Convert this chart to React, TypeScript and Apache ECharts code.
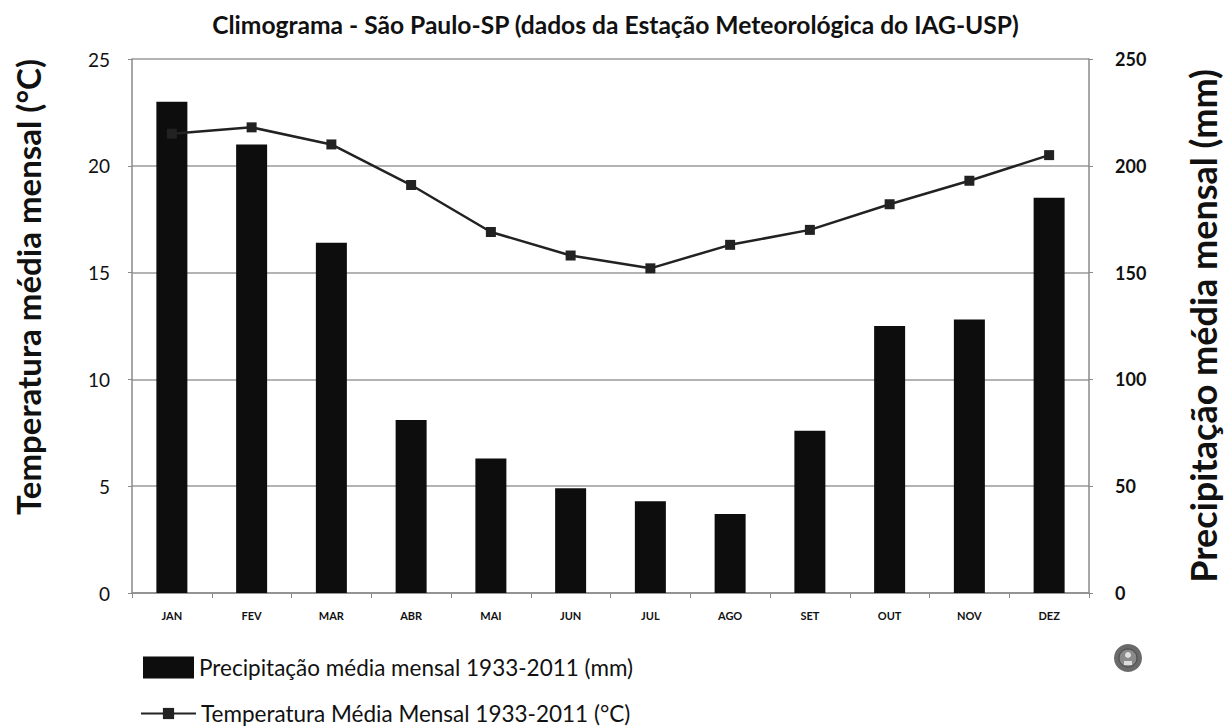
import React, { useEffect, useRef } from "react";
import * as echarts from "echarts";

const months = ["JAN", "FEV", "MAR", "ABR", "MAI", "JUN", "JUL", "AGO", "SET", "OUT", "NOV", "DEZ"];
const precipitation = [230, 210, 164, 81, 63, 49, 43, 37, 76, 125, 128, 185];
const temperature = [21.5, 21.8, 21.0, 19.1, 16.9, 15.8, 15.2, 16.3, 17.0, 18.2, 19.3, 20.5];
const tempTicks = [0, 25, 5];
const precTicks = [0, 250, 50];

const precName = "Precipitação média mensal 1933-2011 (mm)";
const tempName = "Temperatura Média Mensal 1933-2011 (°C)";
const FONT = "Lato, 'Open Sans', sans-serif";

export default function App() {
  const ref = useRef<HTMLDivElement>(null);
  useEffect(() => {
    if (!ref.current) return;
    const chart = echarts.init(ref.current, null, { renderer: "svg" });
    chart.setOption({
      animation: false,
      backgroundColor: "#ffffff",
      textStyle: { fontFamily: FONT },
      title: {
        text: "Climograma - São Paulo-SP (dados da Estação Meteorológica do IAG-USP)",
        left: "center",
        top: 7,
        textStyle: { fontSize: 24.6, fontWeight: "bold", color: "#111", fontFamily: FONT },
      },
      grid: { left: 132, right: 142, top: 59, bottom: 134 },
      legend: [
        {
          data: [precName],
          left: 138,
          top: 651,
          orient: "vertical",
          itemWidth: 51,
          itemHeight: 22,
          icon: "rect",
          textStyle: { fontSize: 22.5, color: "#111", fontFamily: FONT },
        },
        {
          data: [tempName],
          left: 135,
          top: 697,
          orient: "vertical",
          itemWidth: 55,
          itemHeight: 14,
          textStyle: { fontSize: 22.5, color: "#111", fontFamily: FONT },
        },
      ],
      xAxis: {
        type: "category",
        data: months,
        boundaryGap: true,
        axisLine: { lineStyle: { color: "#8a8a8a", width: 1.5 } },
        axisTick: { show: true, length: 5, lineStyle: { color: "#8a8a8a" } },
        axisLabel: { fontSize: 11, fontWeight: "bold", color: "#111", margin: 17 },
      },
      yAxis: [
        {
          type: "value",
          min: tempTicks[0],
          max: tempTicks[1],
          interval: tempTicks[2],
          name: "Temperatura média mensal (°C)",
          nameLocation: "middle",
          nameGap: 88,
          nameTextStyle: { fontSize: 33, fontWeight: "bold", color: "#111", padding: [0, 0, 0, 78] },
          axisLine: { show: true, lineStyle: { color: "#8a8a8a", width: 1.5 } },
          axisTick: { show: true, length: 4, lineStyle: { color: "#8a8a8a" } },
          axisLabel: { fontSize: 19, color: "#111", margin: 22 },
          splitLine: { show: true, lineStyle: { color: "#9a9a9a", width: 1.5 } },
        },
        {
          type: "value",
          min: precTicks[0],
          max: precTicks[1],
          interval: precTicks[2],
          position: "right",
          name: "Precipitação média mensal (mm)",
          nameLocation: "middle",
          nameGap: 96,
          nameRotate: 90,
          nameTextStyle: { fontSize: 36, fontWeight: "bold", color: "#111" },
          axisLine: { show: true, lineStyle: { color: "#8a8a8a", width: 1.5 } },
          axisTick: { show: true, length: 4, lineStyle: { color: "#8a8a8a" } },
          axisLabel: { fontSize: 18, fontWeight: "bold", color: "#111", margin: 26 },
          splitLine: { show: false },
        },
      ],
      series: [
        {
          name: precName,
          type: "bar",
          yAxisIndex: 1,
          data: precipitation,
          barWidth: 31,
          itemStyle: { color: "#0d0d0d" },
        },
        {
          name: tempName,
          type: "line",
          yAxisIndex: 0,
          data: temperature,
          symbol: "rect",
          symbolSize: 10,
          lineStyle: { color: "#222", width: 2.5 },
          itemStyle: { color: "#222" },
          z: 5,
        },
      ],
      graphic: [
        {
          type: "group",
          left: 1114,
          top: 644,
          children: [
            { type: "circle", shape: { cx: 14, cy: 14, r: 14 }, style: { fill: "#6a6a6a" } },
            { type: "circle", shape: { cx: 14, cy: 14, r: 9 }, style: { fill: "#8a8a8a", stroke: "#444", lineWidth: 1 } },
            { type: "circle", shape: { cx: 14, cy: 11, r: 3 }, style: { fill: "#e0e0e0" } },
            { type: "rect", shape: { x: 10, y: 17, width: 8, height: 4 }, style: { fill: "#dcdcdc" } },
          ],
        },
      ],
    });
    return () => chart.dispose();
  }, []);
  return <div ref={ref} style={{ width: 1231, height: 727, position: "absolute", left: 0, top: 0 }} />;
}
